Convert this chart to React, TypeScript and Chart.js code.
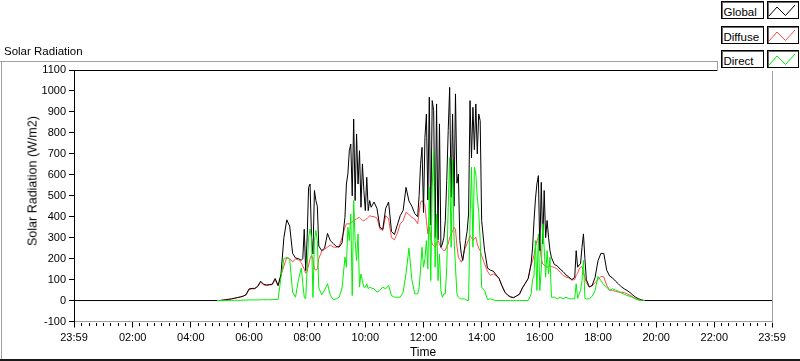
import React, { useEffect, useRef } from 'react';
import { Chart, registerables } from 'chart.js';

Chart.register(...registerables);

// Axis range: 23:59 (previous day) to 23:59, in hours
const X_MIN = -1 / 60;
const X_MAX = 24 - 1 / 60;

// Sample times (hours of day) for the daylight part of the record
const TIMES = [
  4.9, 5.0, 5.1, 5.2, 5.3, 5.4, 5.5, 5.6, 5.7, 5.8, 5.9,
  6.0, 6.1, 6.2, 6.3, 6.4, 6.5, 6.6, 6.7, 6.8, 6.9,
  7.0, 7.1, 7.2, 7.3, 7.4, 7.5, 7.6, 7.7,
  7.8, 7.85, 7.9, 7.95, 8.0, 8.05, 8.1, 8.15, 8.2, 8.25, 8.3, 8.35, 8.4,
  8.5, 8.6, 8.7, 8.8, 8.9, 9.0, 9.1, 9.2,
  9.3, 9.35, 9.4, 9.45, 9.5, 9.55, 9.6, 9.65, 9.7, 9.75, 9.8, 9.85, 9.9, 9.95, 10.0, 10.05, 10.1, 10.15, 10.2,
  10.3, 10.4, 10.5, 10.6, 10.7, 10.8, 10.9, 11.0, 11.1, 11.2, 11.3, 11.4, 11.5, 11.6, 11.7, 11.8,
  11.85, 11.9, 11.95,
  12.0, 12.05, 12.1, 12.15, 12.2, 12.25, 12.3, 12.35, 12.4, 12.45, 12.5, 12.55, 12.6, 12.65, 12.7, 12.75, 12.8, 12.85, 12.9, 12.95,
  13.0, 13.05, 13.1, 13.15, 13.2, 13.25, 13.3, 13.35, 13.4, 13.45, 13.5, 13.55, 13.6, 13.65, 13.7, 13.75, 13.8, 13.85, 13.9, 13.95,
  14.0,
  14.1, 14.2, 14.3, 14.4, 14.5, 14.6, 14.7, 14.8, 14.9, 15.0, 15.1, 15.2, 15.3, 15.4, 15.5, 15.6, 15.7,
  15.75, 15.8, 15.85, 15.9, 15.95, 16.0, 16.05, 16.1, 16.15, 16.2, 16.25, 16.3, 16.35,
  16.4, 16.5, 16.6, 16.7, 16.8, 16.9, 17.0, 17.1,
  17.2, 17.25, 17.3, 17.35, 17.4, 17.45, 17.5, 17.55, 17.6,
  17.7, 17.8, 17.9, 18.0, 18.1, 18.2, 18.3, 18.4, 18.5, 18.6, 18.7, 18.8, 18.9,
  19.0, 19.1, 19.2, 19.3, 19.4, 19.5, 19.6,
];

const GLOBAL = [
  0, 0, 2, 4, 6, 8, 11, 14, 17, 21, 28,
  55, 58, 58, 68, 92, 78, 74, 76, 78, 105,
  72, 125, 300, 385, 355, 225, 203, 200,
  192, 200, 340, 143, 300, 540, 556, 302, 222, 525, 477, 450, 260,
  238, 250, 320, 285, 272, 258, 255, 275,
  397, 556, 604, 715, 747, 500, 866, 477, 795, 556, 715, 445, 652, 525, 429, 588, 429, 477, 445,
  470, 440, 350, 340, 440, 470, 330, 315, 360, 405, 430, 540, 475, 450, 415, 400,
  500, 650, 731,
  420, 779, 890, 480, 970, 360, 954, 906, 300, 938, 290, 843, 254, 270, 300, 382, 572, 811, 1017, 493,
  890, 450, 986, 560, 604, 286, 223, 191, 238, 286, 330, 413, 954, 680, 922, 720, 938, 700, 890, 858,
  382,
  240, 155, 145, 140, 122, 105, 70, 40, 25, 17, 14, 22, 30, 60, 82, 105, 175,
  250, 380, 485, 556, 596, 238, 564, 270, 525, 300, 382, 302, 238,
  205, 172, 165, 150, 138, 122, 112, 100,
  110, 238, 159, 170, 175, 254, 318, 200, 100,
  65, 72, 110, 190, 225, 225, 145, 117, 108, 93, 80, 66, 56,
  48, 38, 26, 15, 8, 3, 0,
];

const DIFFUSE = [
  0, 0, 2, 4, 6, 8, 11, 14, 17, 21, 27,
  52, 56, 56, 66, 88, 75, 72, 74, 76, 100,
  70, 120, 165, 205, 200, 185, 198, 195,
  180, 165, 150, 130, 140, 170, 200, 215, 195, 150, 145, 150, 200,
  235, 245, 255, 265, 255, 254, 260, 300,
  350, 366, 366, 366, 370, 378, 381, 386, 390, 394, 397, 390, 383, 381, 386, 390, 397, 405, 402,
  400, 394, 342, 334, 405, 390, 300, 290, 320, 366, 381, 421, 410, 397, 389, 366,
  420, 469, 477,
  465, 453, 382, 318, 350, 300, 270, 262, 254, 270, 286, 270, 254, 246, 238, 240, 260, 270, 300, 318,
  330, 350, 340, 260, 207, 195, 183, 200, 238, 255, 270, 290, 310, 300, 286, 295, 302, 270, 250, 238,
  214,
  175, 140, 120, 127, 119, 105, 70, 40, 25, 17, 14, 22, 30, 60, 82, 105, 170,
  190, 215, 254, 286, 302, 270, 200, 175, 170, 162, 159, 163, 167,
  162, 158, 151, 135, 120, 112, 108, 98,
  100, 120, 130, 150, 159, 162, 135, 110, 85,
  64, 70, 85, 100, 115, 113, 72, 50, 48, 44, 40, 40, 38,
  32, 25, 17, 8, 3, 1, 0,
];

const DIRECT = [
  0, 0, 0, 0, 0, 1, 1, 1, 1, 2, 2,
  3, 3, 3, 3, 4, 4, 4, 4, 4, 5,
  5, 110, 200, 205, 195, 40, 16, 100,
  155, 80, 16, 8, 150, 300, 342, 300, 15, 286, 334, 286, 60,
  28, 50, 80, 24, 5, 8, 16, 60,
  207, 159, 350, 286, 413, 24, 477, 286, 191, 318, 64, 127, 95, 64, 64, 80, 56, 64, 60,
  56, 40, 48, 64, 56, 72, 24, 16, 16, 16, 40, 130, 250, 100, 32, 32,
  60, 150, 254,
  159, 200, 286, 150, 540, 95, 540, 715, 159, 413, 95, 222, 48, 16, 32, 32, 159, 445, 683, 254,
  668, 300, 159, 32, 16, 10, 8, 8, 8, 5, 0, 0, 382, 636, 254, 636, 604, 493, 420, 286,
  64,
  48, 5, 8, 3, 0, 0, 0, 0, 0, 0, 0, 0, 0, 0, 0, 0, 30,
  100, 120, 286, 48, 318, 48, 150, 366, 250, 111, 238, 127, 207,
  16, 16, 8, 16, 8, 16, 8, 8,
  8, 80, 10, 30, 48, 95, 191, 10, 8,
  8, 20, 48, 115, 95, 75, 64, 48, 56, 50, 45, 36, 30,
  24, 20, 14, 7, 3, 1, 0,
];

const X_TICKS = [X_MIN, 2, 4, 6, 8, 10, 12, 14, 16, 18, 20, 22, X_MAX];
const X_TICK_LABELS = [
  '23:59', '02:00', '04:00', '06:00', '08:00', '10:00', '12:00',
  '14:00', '16:00', '18:00', '20:00', '22:00', '23:59',
];
const Y_TICKS = [-100, 0, 100, 200, 300, 400, 500, 600, 700, 800, 900, 1000, 1100];

const SERIES_NAMES = ['Global', 'Diffuse', 'Direct'];
const SERIES_COLORS = ['#000000', '#ff4a4a', '#00f000'];

const CHART_TITLE = 'Solar Radiation';
const X_TITLE = 'Time';
const Y_TITLE = 'Solar Radiation (W/m2)';

const FONT = "'Liberation Sans', Arial, sans-serif";

function toPoints(values: number[]) {
  return values.map((v, i) => ({ x: TIMES[i], y: v }));
}

const framePlugin = {
  id: 'lvFrame',
  afterDraw(chart: any) {
    const { ctx, chartArea: a, scales } = chart;
    const x = scales.x;
    ctx.save();
    // outer panel frame
    ctx.fillStyle = '#a0a0a0';
    ctx.fillRect(0, 61, 717, 1);
    ctx.fillRect(1, 61, 1, 298);
    ctx.fillStyle = '#1a1a1a';
    ctx.fillRect(0, 359, 800, 2);
    // plot frame: top black, right gray
    ctx.fillStyle = '#000';
    ctx.fillRect(Math.floor(a.left), Math.floor(a.top), Math.round(a.right - a.left), 1);
    ctx.fillStyle = '#a0a0a0';
    ctx.fillRect(Math.round(a.right), Math.floor(a.top), 1, Math.round(a.bottom - a.top) + 1);
    // minor x ticks every 15 min
    ctx.fillStyle = '#000';
    for (let q = 0; q < 96; q++) {
      if (q % 8 === 0 && q !== 0) continue;
      const px = Math.round(x.getPixelForValue(q / 4) - 0.5);
      ctx.fillRect(px, Math.round(a.bottom) + 1, 1, 3);
    }
    ctx.restore();
  },
};

function LegendRow({ name, color, top }: { name: string; color: string; top: number }) {
  return (
    <>
      <div
        style={{
          position: 'absolute',
          left: 721,
          top,
          width: 43,
          height: 18,
          boxSizing: 'border-box',
          border: '1px solid #000',
          boxShadow: 'inset 1px 1px 0 #6a6a6a',
          background: '#fff',
        }}
      >
        <span
          style={{
            position: 'absolute',
            left: 1.5,
            top: 3.5,
            fontFamily: FONT,
            fontSize: 11.5,
            lineHeight: '13px',
            color: '#000',
            whiteSpace: 'nowrap',
          }}
        >
          {name}
        </span>
      </div>
      <div
        style={{
          position: 'absolute',
          left: 767,
          top,
          width: 32,
          height: 18,
          boxSizing: 'border-box',
          border: '1px solid #000',
          boxShadow: 'inset 1px 1px 0 #6a6a6a',
          background: '#fff',
        }}
      >
        <svg width={30} height={16} style={{ position: 'absolute', left: 0, top: 0 }}>
          <polyline points="1,14 9,5 17.5,13.5 27,3" fill="none" stroke={color} strokeWidth={1} />
        </svg>
      </div>
    </>
  );
}

export default function App() {
  const canvasRef = useRef<HTMLCanvasElement | null>(null);

  useEffect(() => {
    if (!canvasRef.current) return;
    Chart.defaults.font.family = FONT;
    const globalPts = [{ x: X_MIN, y: 0 }, ...toPoints(GLOBAL), { x: X_MAX, y: 0 }];
    const chart = new Chart(canvasRef.current, {
      type: 'line',
      data: {
        datasets: [
          { label: SERIES_NAMES[0], data: globalPts, borderColor: SERIES_COLORS[0], order: 1 },
          { label: SERIES_NAMES[1], data: toPoints(DIFFUSE), borderColor: SERIES_COLORS[1], order: 2 },
          { label: SERIES_NAMES[2], data: toPoints(DIRECT), borderColor: SERIES_COLORS[2], order: 0 },
        ],
      },
      options: {
        animation: false,
        responsive: false,
        devicePixelRatio: 1,
        layout: { padding: { left: 0, top: 70, right: 28, bottom: 0 } },
        elements: {
          point: { radius: 0, hoverRadius: 0 },
          line: { borderWidth: 1, tension: 0, fill: false },
        },
        plugins: {
          legend: { display: false },
          tooltip: { enabled: false },
          title: { display: false },
        },
        events: [],
        scales: {
          x: {
            type: 'linear',
            min: X_MIN,
            max: X_MAX,
            afterBuildTicks: (s: any) => {
              s.ticks = X_TICKS.map((v) => ({ value: v }));
            },
            afterFit: (s: any) => {
              s.height = 39.5;
            },
            ticks: {
              autoSkip: false,
              maxRotation: 0,
              minRotation: 0,
              padding: 4,
              color: '#000',
              font: { size: 11 },
              callback: (_v: any, i: number) => X_TICK_LABELS[i],
            },
            grid: { drawOnChartArea: false, drawTicks: true, tickLength: 6, color: '#000' },
            border: { color: '#a0a0a0' },
            title: {
              display: true,
              text: X_TITLE,
              color: '#000',
              font: { size: 12 },
              padding: { top: 0, bottom: 1 },
            },
          },
          y: {
            type: 'linear',
            min: -100,
            max: 1100,
            afterBuildTicks: (s: any) => {
              s.ticks = Y_TICKS.map((v) => ({ value: v }));
            },
            afterFit: (s: any) => {
              s.width = 74;
            },
            ticks: {
              padding: 3,
              color: '#000',
              font: { size: 11 },
              callback: (v: any) => String(v),
            },
            grid: { drawOnChartArea: false, drawTicks: true, tickLength: 5, color: '#000' },
            border: { color: '#000' },
            title: { display: false },
          },
        },
      } as any,
      plugins: [framePlugin],
    });
    return () => chart.destroy();
  }, []);

  return (
    <div style={{ position: 'absolute', left: 0, top: 0, width: 800, height: 361, background: '#fff', overflow: 'hidden' }}>
      <canvas
        ref={canvasRef}
        width={800}
        height={361}
        style={{ position: 'absolute', left: 0, top: 0, width: 800, height: 361 }}
      />
      <div
        style={{
          position: 'absolute',
          left: 4,
          top: 45,
          fontFamily: FONT,
          fontSize: 11.5,
          lineHeight: '13px',
          color: '#000',
          whiteSpace: 'nowrap',
        }}
      >
        {CHART_TITLE}
      </div>
      <div
        style={{
          position: 'absolute',
          left: 33,
          top: 181,
          transform: 'translate(-50%, -50%) rotate(-90deg)',
          fontFamily: FONT,
          fontSize: 12.5,
          lineHeight: '15px',
          color: '#000',
          whiteSpace: 'nowrap',
        }}
      >
        {Y_TITLE}
      </div>
      <div style={{ position: 'absolute', left: 718, top: 0, width: 82, height: 71, background: '#fff' }} />
      <div style={{ position: 'absolute', left: 717, top: 61, width: 1, height: 10, background: '#a0a0a0' }} />
      {SERIES_NAMES.map((n, i) => (
        <LegendRow key={n} name={n} color={SERIES_COLORS[i]} top={[1, 26, 50][i]} />
      ))}
    </div>
  );
}
